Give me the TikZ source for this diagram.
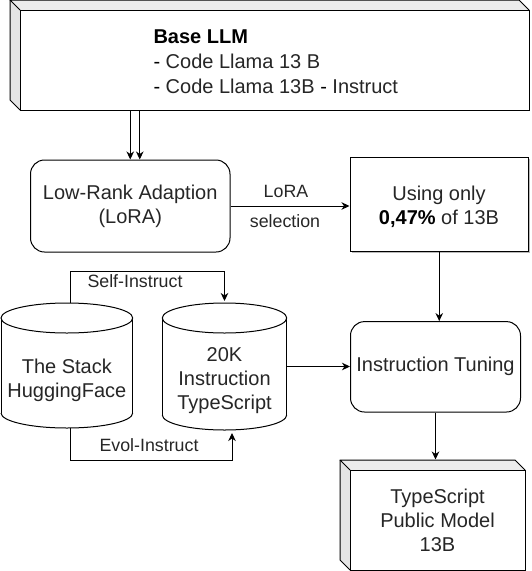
\documentclass[tikz,border=0pt]{standalone}
\usepackage{fontspec}
\setmainfont{Liberation Sans}
\usetikzlibrary{arrows.meta,calc}
\definecolor{txt}{HTML}{262626}
\definecolor{facegray}{HTML}{ECECEC}
\definecolor{sidegray}{HTML}{E4E4E4}
\begin{document}
\begin{tikzpicture}[x=1pt,y=-1pt,line width=1pt,
  arr/.style={-{Stealth[length=8pt,width=7.5pt,inset=2.5pt]},line width=1pt},
  main/.style={font=\fontsize{20}{24}\selectfont,text=txt,align=center},
  lbl/.style={font=\fontsize{17.8}{21}\selectfont,text=txt},
  geom/.style={inner sep=0pt,outer sep=0pt},
  boxface/.style={draw,fill=white,inner sep=0pt,anchor=north west}]
\useasboundingbox (0,0) rectangle (531,571);

% ---------- Base LLM cube ----------
\fill[sidegray] (10,0) -- (20,10) -- (20,110) -- (10,100) -- cycle;
\fill[facegray] (10,0) -- (519,0) -- (529,10) -- (20,10) -- cycle;
\node[boxface,minimum width=509pt,minimum height=100pt] (base) at (20,10) {};
\draw[line join=round] (20,10) -- (10,0) -- (519,0) -- (529,10);
\draw[line join=round] (10,0) -- (10,100) -- (20,110);
\node[main,font=\fontsize{20}{25}\selectfont,anchor=west,align=left,inner xsep=0pt] (basetxt) at (153,62)
  {\textbf{\color{black}Base LLM}\\\textcolor{black}{-} Code Llama 13 B\\\textcolor{black}{-} Code Llama 13B \textcolor{black}{-} Instruct};

% ---------- LoRA ----------
\node[draw,rounded corners=14pt,minimum width=199.5pt,minimum height=92pt,main] (lora) at (130.25,206)
  {Low-Rank Adaption\\(LoRA)};

% ---------- Using only ----------
\fill[gray!55] (351.5,159) rectangle (530,252.5);
\node[draw,fill=white,minimum width=178.5pt,minimum height=93.5pt,inner sep=0pt] (using) at (439.25,204.25) {};
\node[main] (usingtxt) at (439,207) {Using only\\\textbf{\color{black}0,47\%} of 13B};

% ---------- Instruction Tuning ----------
\node[draw,rounded corners=14pt,minimum width=170pt,minimum height=90.4pt,main] (instr) at (435.5,366.8)
  {Instruction Tuning};

% ---------- TypeScript cube ----------
\fill[sidegray] (340,460) -- (350,470) -- (350,570) -- (340,560) -- cycle;
\fill[facegray] (340,460) -- (515,460) -- (525,470) -- (350,470) -- cycle;
\node[boxface,minimum width=175pt,minimum height=100pt,main,anchor=center] (ts) at (437.5,520)
  {TypeScript\\Public Model\\13B};
\draw[line join=round] (350,470) -- (340,460) -- (515,460) -- (525,470);
\draw[line join=round] (340,460) -- (340,560) -- (350,570);

% ---------- Cylinder: The Stack ----------
\fill[white] (1,318) rectangle (132.7,413);
\fill[white] (66.85,413) ellipse [x radius=65.85, y radius=15];
\begin{scope}
  \clip (-5,413) rectangle (140,440);
  \draw (66.85,413) ellipse [x radius=65.85, y radius=15];
\end{scope}
\draw (1,318) -- (1,413) (132.7,318) -- (132.7,413);
\draw[fill=white] (66.85,318) ellipse [x radius=65.85, y radius=15];
\node[geom,minimum width=131.7pt,minimum height=125pt] (stack) at (66.85,365.5) {};
\node[main] (stacktxt) at ([yshift=-15pt]stack.center) {The Stack\\HuggingFace};

% ---------- Cylinder: 20K ----------
\fill[white] (162.3,318) rectangle (286.7,415);
\fill[white] (224.5,415) ellipse [x radius=62.2, y radius=15];
\begin{scope}
  \clip (150,415) rectangle (300,440);
  \draw (224.5,415) ellipse [x radius=62.2, y radius=15];
\end{scope}
\draw (162.3,318) -- (162.3,415) (286.7,318) -- (286.7,415);
\draw[fill=white] (224.5,318) ellipse [x radius=62.2, y radius=15];
\node[geom,minimum width=124.4pt,minimum height=127pt] (k20) at (224.5,366.5) {};
\node[main] (k20txt) at ([yshift=-14pt]k20.center) {20K\\Instruction\\TypeScript};

% ---------- Connectors ----------
\coordinate (b2) at ([xshift=9.5pt]lora.north);
\draw[arr] (lora.north |- base.south) -- (lora.north);
\draw[arr] (b2 |- base.south) -- (b2);

\draw[arr] (lora.east) -- (lora.east -| using.west);
\node[lbl] (lblA) at (286,191) {LoRA};
\node[lbl] (lblB) at (285,221) {selection};

\draw[arr] (using.south) -- (using.south |- instr.north);

\coordinate (tstop) at ([yshift=10pt]ts.north);
\draw[arr] (instr.south) -- (instr.south |- tstop);

\draw[arr] (k20.east) -- (k20.east -| instr.west);

\coordinate (s1) at ([xshift=4pt]stack.north);
\coordinate (s2) at ([yshift=2pt]k20.north);
\draw[arr] (s1) -- ++(0,-32) -| (s2);
\node[lbl] (lblC) at (135,281) {Self-Instruct};

\coordinate (e1) at ([xshift=4pt]stack.south);
\coordinate (e2) at ([xshift=7.5pt,yshift=-3pt]k20.south);
\draw[arr] (e1) -- ++(0,32) -| (e2);
\node[lbl] (lblD) at (149,445) {Evol-Instruct};
\end{tikzpicture}
\end{document}
